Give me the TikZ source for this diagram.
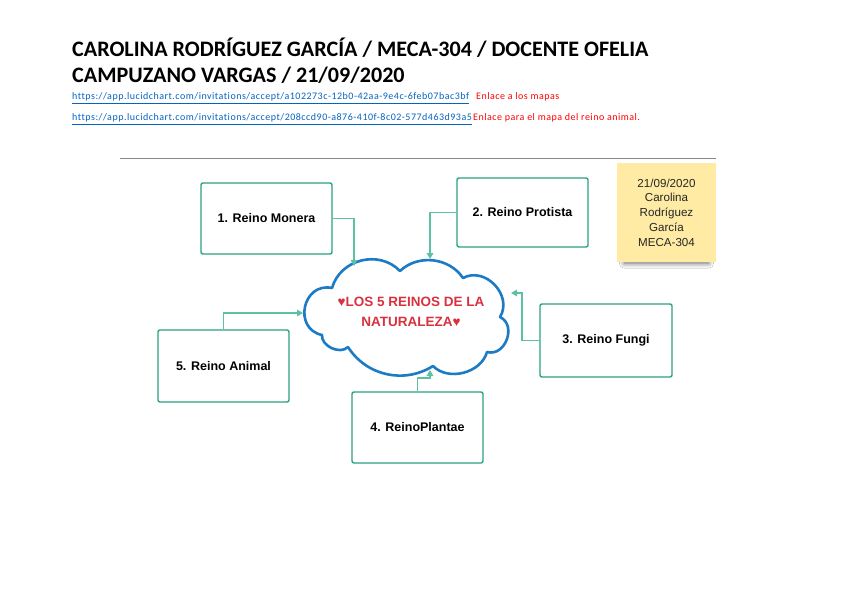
\documentclass[tikz,border=0pt]{standalone}
\usepackage{fontspec}
\setmainfont{Carlito}
\newfontfamily\arial{Liberation Sans}
\newfontfamily\spaced[LetterSpace=5, Ligatures=NoCommon]{Carlito}
\usetikzlibrary{arrows.meta,shadows.blur}
\definecolor{boxteal}{HTML}{2AA084}
\definecolor{arrteal}{HTML}{5CC0A5}
\definecolor{cloudblue}{HTML}{1B7BC4}
\definecolor{cloudred}{HTML}{D9323F}
\definecolor{sticky}{HTML}{FFEBA3}
\definecolor{linkblue}{HTML}{0563C1}
\definecolor{rulegray}{HTML}{8A8A8A}
\tikzset{
  reino/.style={draw=boxteal, line width=1.4pt, rounded corners=2pt, fill=white,
    minimum width=131pt, minimum height=71pt, inner sep=0pt,
    font=\arial\bfseries\fontsize{12.5}{15}\selectfont},
  arr/.style={draw=arrteal, line width=1.7pt, -{Triangle[length=6pt,width=6.5pt]}},
  titletext/.style={anchor=base west, inner sep=0pt, font=\bfseries\fontsize{22.1}{26}\selectfont},
  linktext/.style={anchor=base west, inner sep=0pt, text=linkblue, font=\spaced\fontsize{10}{11}\selectfont},
  redtext/.style={anchor=base west, inner sep=0pt, text=red, font=\spaced\fontsize{10}{11}\selectfont},
  cloudline/.style={draw=cloudblue, line width=2.6pt, fill=white, line join=round},
}
\begin{document}
\begin{tikzpicture}[x=1pt,y=-1pt]
\useasboundingbox[fill=white] (0,0) rectangle (848,599);
% header
\node[titletext] (t1) at (72,57) {CAROLINA RODRÍGUEZ GARCÍA / MECA-304 / DOCENTE OFELIA};
\node[titletext] (t2) at (72,83) {CAMPUZANO VARGAS / 21/09/2020};
\node[linktext] (l1) at (72,100) {\underline{https://app.lucidchart.com/invitations/accept/a102273c-12b0-42aa-9e4c-6feb07bac3bf}};
\node[redtext] (r1) at (476,100) {Enlace a los mapas};
\node[linktext] (l2) at (72,121) {\underline{https://app.lucidchart.com/invitations/accept/208ccd90-a876-410f-8c02-577d463d93a5}};
\node[redtext] (r2) at (473,121) {Enlace para el mapa del reino animal.};
\coordinate (hl) at (120,158);
\coordinate (hr) at (716,158);
\draw[rulegray, line width=1pt] (hl) -- (hr);
% sticky note
\node[fill=sticky, minimum width=99pt, minimum height=99pt, inner sep=0pt,
  blur shadow={shadow xshift=0pt, shadow yshift=-10pt, shadow scale=0.85, shadow opacity=60, shadow blur radius=6pt, shadow blur steps=14},
  align=center, text=black!85, font=\arial\fontsize{11.6}{14.7}\selectfont] (note) at (666.5,212.5)
  {21/09/2020\\Carolina\\Rodríguez\\García\\MECA-304};
% cloud
\coordinate (v1) at (332,288);
\coordinate (v2) at (400,271);
\coordinate (v3) at (463,278);
\coordinate (v4) at (500,317);
\coordinate (v5) at (487,352);
\coordinate (v6) at (433,366);
\coordinate (v7) at (348,347);
\coordinate (v8) at (322,335);
\draw[cloudline] (v1) to[bend left=60, looseness=1.1] (v2)
  to[bend left=50] (v3)
  to[bend left=75, looseness=1.2] (v4)
  to[bend left=85, looseness=1.3] (v5)
  to[bend left=60] (v6)
  to[bend left=45] (v7)
  to[bend left=70] (v8)
  to[bend left=90, looseness=1.6] cycle;
\node[align=center, text=cloudred, font=\arial\bfseries\fontsize{13.5}{20}\selectfont] (ct) at (411,312)
  {♥LOS 5 REINOS DE LA\\NATURALEZA♥};
% boxes
\node[reino] (m) at (266.5,218.5) {1. Reino Monera};
\node[reino, minimum height=69pt] (p) at (522.5,212.5) {2. Reino Protista};
\node[reino, minimum width=132pt, minimum height=73pt] (f) at (606,340.5) {3. Reino Fungi};
\node[reino, minimum height=72pt] (a) at (223.5,366) {5. Reino Animal};
\node[reino] (pl) at (417.5,427.5) {4. ReinoPlantae};
% connector end points on the cloud
\coordinate (cm) at (354,266);
\coordinate (cp) at (430,259);
\coordinate (cf) at (511,293);
\coordinate (ca) at (303,313);
\coordinate (cpl) at (430,370);
% connectors
\draw[arr] (m.east) -| (cm);
\draw[arr] (p.west) -| (cp);
\draw[arr] (f.west) -- ++(-17,0) |- (cf);
\draw[arr] (a.north) |- (ca);
\draw[arr] (pl.north) -- ++(0,-13) -| (cpl);
\end{tikzpicture}
\end{document}
